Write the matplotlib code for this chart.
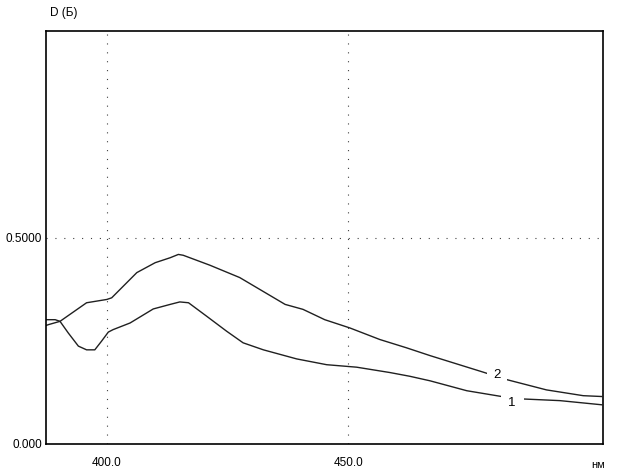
import matplotlib
matplotlib.use("Agg")
import matplotlib.pyplot as plt

# curve 2 (upper)
wl_2 = [387.4, 387.9, 390.3, 395.8, 400.0, 401.0, 406.2, 410.0, 413.1, 414.8,
        415.8, 421.3, 427.5, 436.9, 440.6, 445.1, 450.3, 456.5, 462.0, 466.9,
        477.9, 482.4, 491.0, 498.6, 502.4]
d_2 = [0.287, 0.289, 0.297, 0.342, 0.350, 0.354, 0.415, 0.439, 0.451, 0.459,
       0.457, 0.433, 0.403, 0.338, 0.326, 0.301, 0.281, 0.253, 0.233, 0.214,
       0.174, 0.157, 0.131, 0.117, 0.115]

# curve 1 (lower)
wl_1 = [387.4, 389.3, 390.3, 392.0, 394.1, 395.8, 397.5, 398.9, 400.3, 401.3,
        404.8, 409.6, 413.1, 415.1, 416.9, 420.7, 424.8, 428.2, 432.4, 439.3,
        445.5, 451.7, 458.6, 462.7, 466.9, 474.5, 481.7, 486.2, 493.8, 502.4]
d_1 = [0.301, 0.301, 0.297, 0.269, 0.237, 0.228, 0.228, 0.249, 0.271, 0.277,
       0.293, 0.327, 0.338, 0.344, 0.342, 0.309, 0.273, 0.245, 0.228, 0.206,
       0.192, 0.186, 0.173, 0.164, 0.153, 0.129, 0.115, 0.109, 0.105, 0.095]

x_ticks = [400.0, 450.0]
x_labels = ["400.0", "450.0"]
y_ticks = [0.0, 0.5]
y_labels = ["0.000", "0.5000"]

FONT = "Liberation Sans"

fig = plt.figure(figsize=(6.24, 4.75), dpi=100)
ax = fig.add_axes([46 / 624, 31 / 475, 557 / 624, 413 / 475])

ax.plot(wl_2, d_2, color="#202020", lw=1.0)
ax.plot(wl_1, d_1, color="#202020", lw=1.0)

# curve numbers sit in gaps cut out of the lines
ax.text(480.7, 0.166, "2", fontsize=9.5, family=FONT, ha="center", va="center",
        bbox=dict(facecolor="white", edgecolor="none", pad=4.5))
ax.text(483.9, 0.100, "1", fontsize=9.5, family=FONT, ha="center", va="center",
        bbox=dict(facecolor="white", edgecolor="none", pad=5.5))

ax.set_xlim(387.4, 502.7)
ax.set_ylim(0, 1.0)
ax.set_xticks(x_ticks)
ax.set_xticklabels(x_labels, family=FONT, fontsize=8.5)
ax.set_yticks(y_ticks)
ax.set_yticklabels(y_labels, family=FONT, fontsize=8.5)
ax.tick_params(length=0)
ax.tick_params(axis="x", pad=9)
ax.tick_params(axis="y", pad=3)

ax.grid(True, color="#404040", linestyle=(0, (1, 7)), lw=0.8)
for s in ax.spines.values():
    s.set_linewidth(1.2)
    s.set_color("black")

fig.text(50 / 624, 1 - 13 / 475, "D (Б)", family=FONT, fontsize=8.5, va="center")
fig.text(598 / 624, 1 - 465 / 475, "нм", family=FONT, fontsize=8, va="center", ha="center")

fig.savefig("out.png", dpi=100)
